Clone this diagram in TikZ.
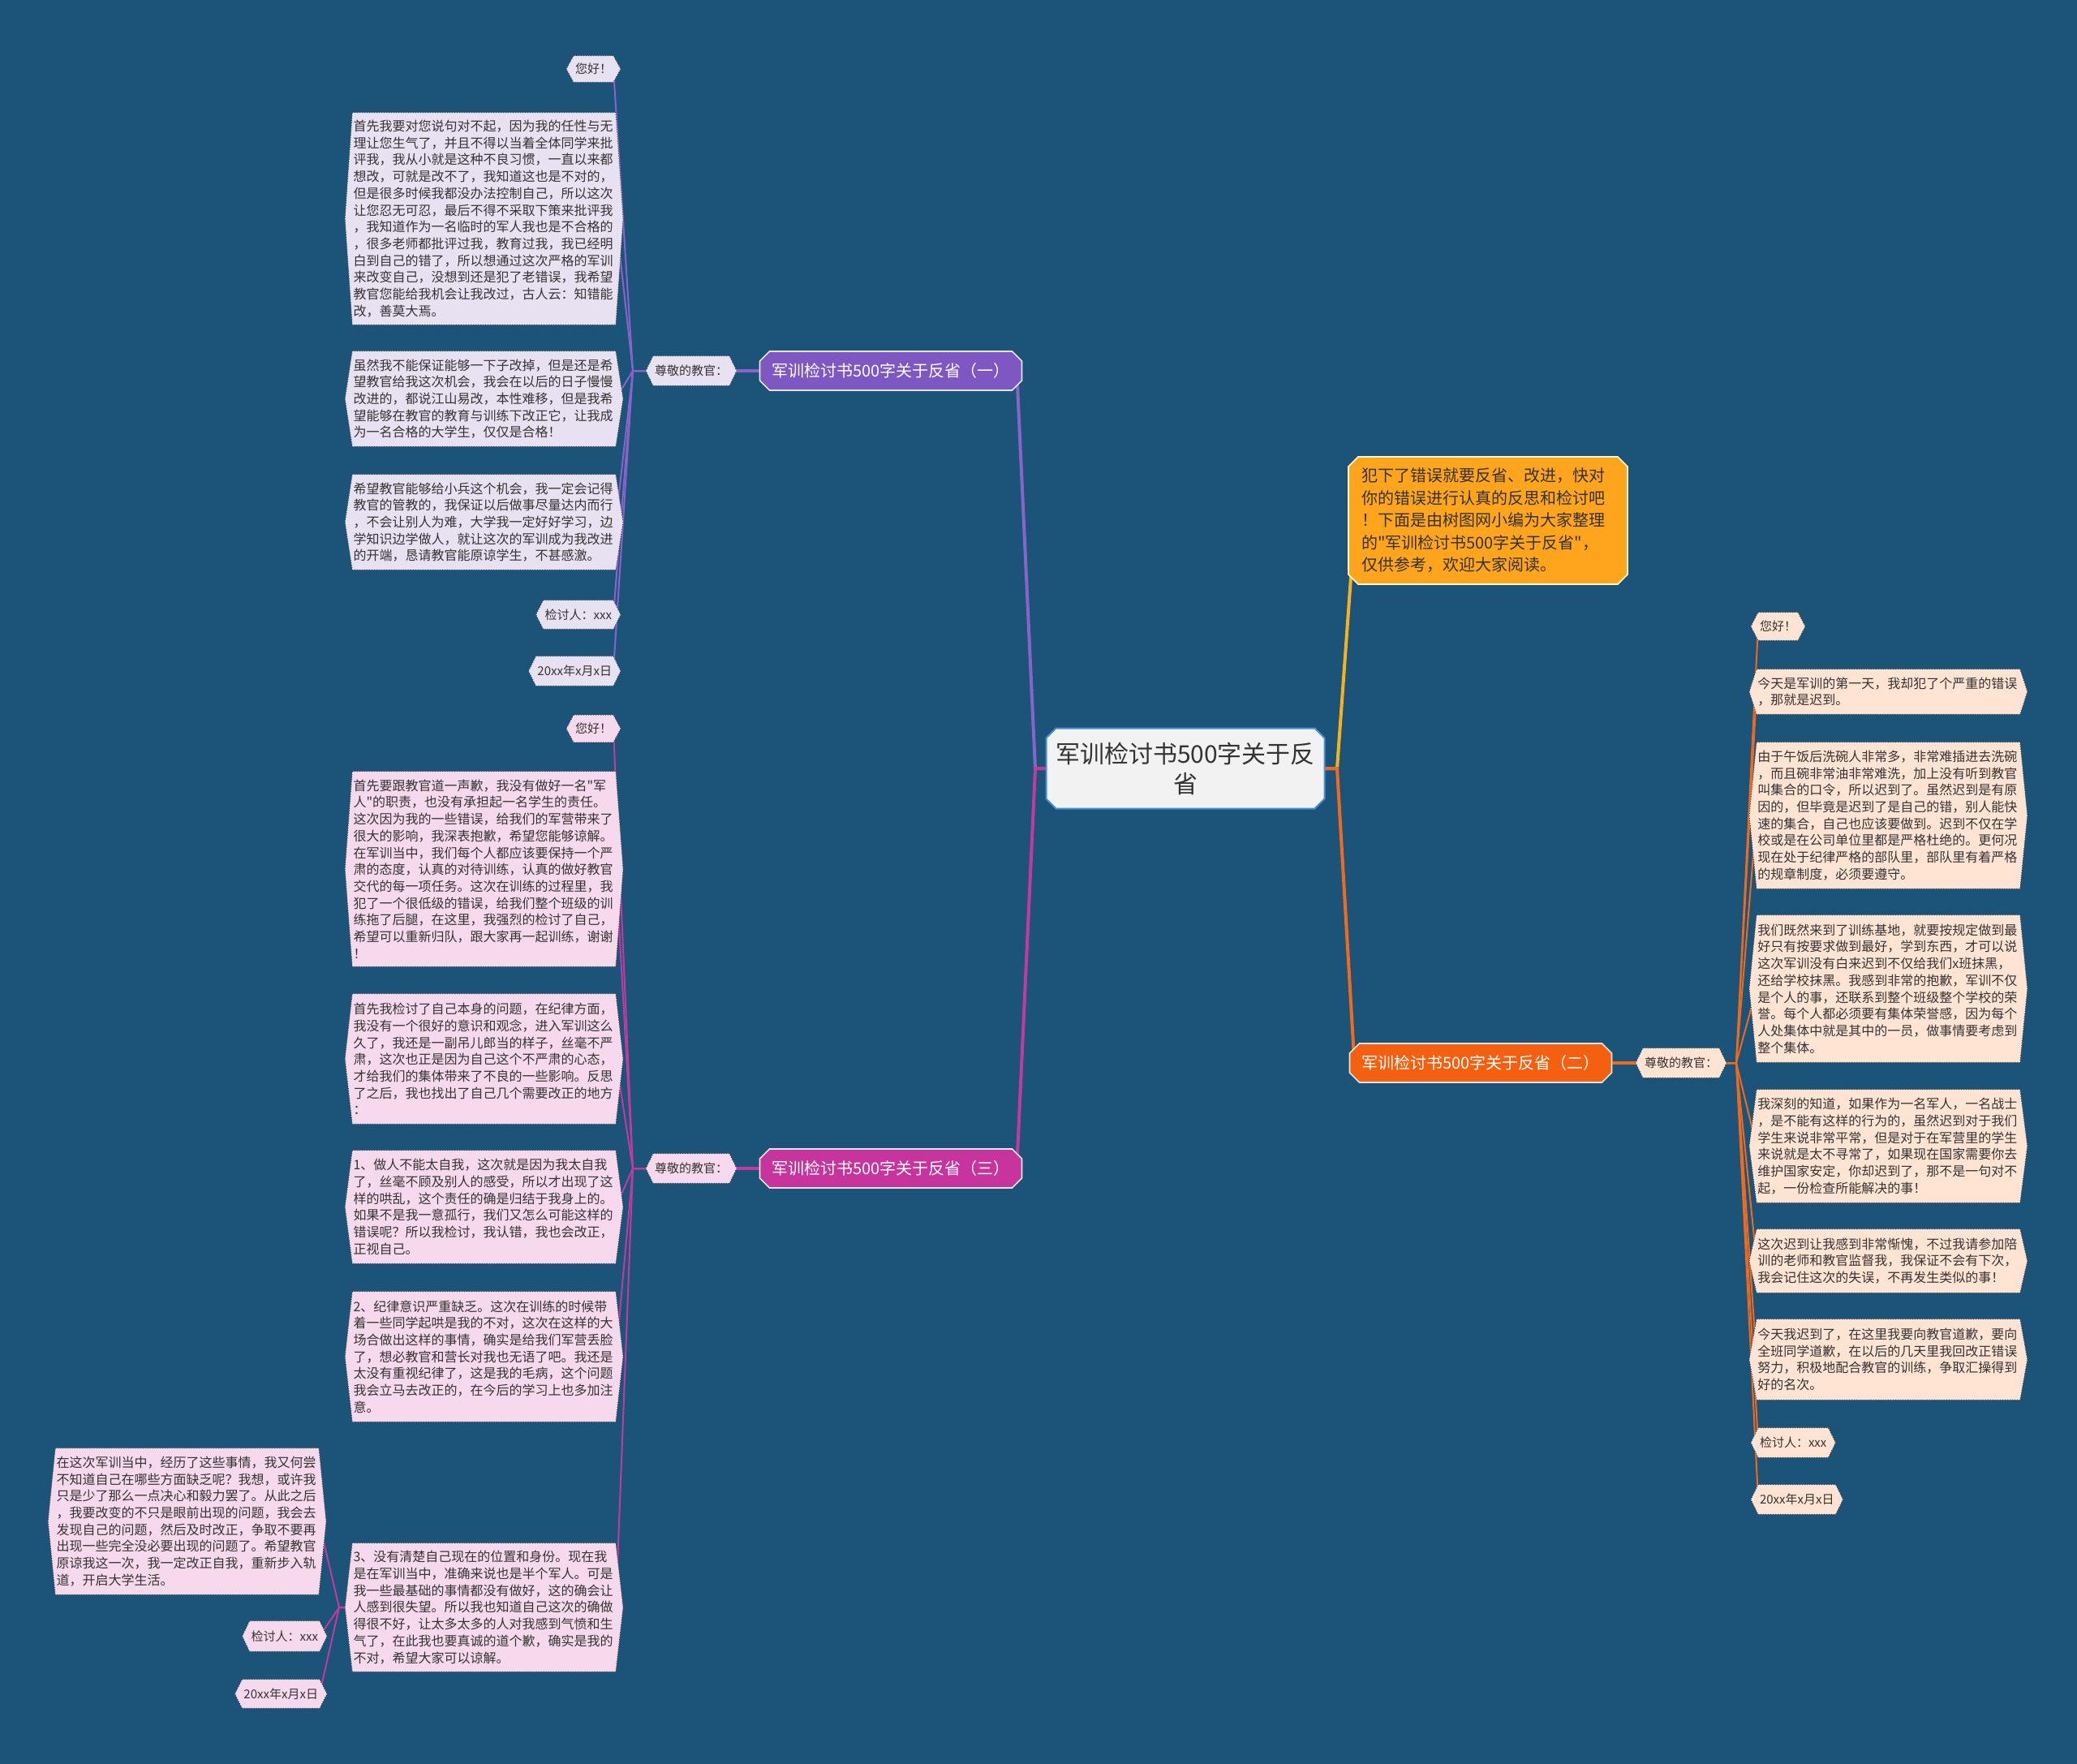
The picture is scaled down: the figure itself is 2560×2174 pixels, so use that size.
\documentclass[tikz,border=0pt]{standalone}
\usepackage{fontspec}
\newfontfamily\cjk{Noto Sans CJK SC}
\usetikzlibrary{shapes.misc,calc}
\pgfdeclarelayer{bg}\pgfdeclarelayer{lines}\pgfdeclarelayer{boxes}
\pgfsetlayers{bg,lines,boxes,main}
\definecolor{bgc}{HTML}{1B5478}
\definecolor{purp}{HTML}{7E57C2}
\definecolor{mag}{HTML}{C8349E}
\definecolor{org}{HTML}{F4600F}
\definecolor{gold}{HTML}{FFA41D}
\definecolor{lav}{HTML}{E7E1F2}
\definecolor{pnk}{HTML}{F6D9EC}
\definecolor{pch}{HTML}{FFE4D4}
\definecolor{txt}{HTML}{333333}
\definecolor{cfill}{HTML}{F2F2F2}
\definecolor{cline}{HTML}{4A8FD6}
\definecolor{lpurp}{HTML}{8A63C9}
\definecolor{lmag}{HTML}{C23AA0}
\definecolor{lorg}{HTML}{EE6A1F}
\definecolor{lgold}{HTML}{F5B120}
\tikzset{
  leaf/.style={font=\cjk\fontsize{8}{10.35}\selectfont, text=txt, align=left, text width=161pt, inner xsep=0.5pt, inner ysep=0pt},
  tag/.style={font=\cjk\fontsize{7.5}{9}\selectfont, text=txt, inner xsep=0.8pt, inner ysep=0pt},
  branchbox/.style={chamfered rectangle, chamfered rectangle xsep=3pt, chamfered rectangle ysep=3pt, draw=white!90!black, line width=0.8pt, font=\cjk\fontsize{10}{12}\selectfont, text=white, align=left, text width=146.5pt, inner xsep=4.5pt, inner ysep=0pt, minimum height=24pt},
  centerbox/.style={chamfered rectangle, chamfered rectangle xsep=3pt, chamfered rectangle ysep=3pt, draw=cline, line width=1pt, fill=cfill, font=\cjk\fontsize{15}{18.5}\selectfont, text=txt, align=center, minimum width=171.5pt, minimum height=49.5pt, inner sep=0pt},
  introbox/.style={chamfered rectangle, chamfered rectangle xsep=3pt, chamfered rectangle ysep=3pt, draw=yellow!20!white, line width=0.8pt, fill=gold, font=\cjk\fontsize{10}{13.75}\selectfont, text=txt, align=left, text width=156pt, inner xsep=5pt, minimum height=78.5pt, inner ysep=0pt},
  trunk/.style={line width=2pt, line cap=round},
  twig/.style={line width=1pt, line cap=round},
  hexline/.style={draw=black!75, densely dotted, line width=0.5pt}
}
\newcommand\hexit[2]{\begin{pgfonlayer}{boxes}\path[hexline, fill=#2] (#1.north west) -- (#1.north east) -- ([xshift=4.5pt]#1.east) -- (#1.south east) -- (#1.south west) -- ([xshift=-4.5pt]#1.west) -- cycle;\end{pgfonlayer}}
\begin{document}
\begin{tikzpicture}[x=0.5pt,y=-0.5pt]
\begin{pgfonlayer}{bg}
\fill[bgc] (0,0) rectangle (2560,2174);
\end{pgfonlayer}
\useasboundingbox (0,0) rectangle (2560,2174);

% centre and main branches
\node[centerbox] (c) at (1461,947) {军训检讨书500字关于反\\省};
\node[introbox] (intro) at (1834,641.5) {犯下了错误就要反省、改进，快对\\你的错误进行认真的反思和检讨吧\\！下面是由树图网小编为大家整理\\的"军训检讨书500字关于反省"，\\仅供参考，欢迎大家阅读。};
\node[branchbox, fill=purp] (b1) at (1098,457) {军训检讨书500字关于反省（一）};
\node[branchbox, fill=mag] (b3) at (1098,1440) {军训检讨书500字关于反省（三）};
\node[branchbox, fill=org] (b2) at (1825,1310) {军训检讨书500字关于反省（二）};

% greeting tags
\node[tag, minimum height=18pt] (z1) at (852,457) {尊敬的教官：}; \hexit{z1}{lav}
\node[tag, minimum height=18pt] (z3) at (852,1440) {尊敬的教官：}; \hexit{z3}{pnk}
\node[tag, minimum height=18pt] (z2) at (2072,1310) {尊敬的教官：}; \hexit{z2}{pch}

% branch (一)
\node[tag, anchor=east, minimum height=16pt] (l1a) at (756,85) {您好！}; \hexit{l1a}{lav}
\node[leaf, anchor=east, minimum height=130.5pt] (l1b) at (759,269.5) {首先我要对您说句对不起，因为我的任性与无\\理让您生气了，并且不得以当着全体同学来批\\评我，我从小就是这种不良习惯，一直以来都\\想改，可就是改不了，我知道这也是不对的，\\但是很多时候我都没办法控制自己，所以这次\\让您忍无可忍，最后不得不采取下策来批评我\\，我知道作为一名临时的军人我也是不合格的\\，很多老师都批评过我，教育过我，我已经明\\白到自己的错了，所以想通过这次严格的军训\\来改变自己，没想到还是犯了老错误，我希望\\教官您能给我机会让我改过，古人云：知错能\\改，善莫大焉。}; \hexit{l1b}{lav}
\node[leaf, anchor=east, minimum height=58.5pt] (l1c) at (759,491.5) {虽然我不能保证能够一下子改掉，但是还是希\\望教官给我这次机会，我会在以后的日子慢慢\\改进的，都说江山易改，本性难移，但是我希\\望能够在教官的教育与训练下改正它，让我成\\为一名合格的大学生，仅仅是合格！}; \hexit{l1c}{lav}
\node[leaf, anchor=east, minimum height=58.5pt] (l1d) at (759,643.5) {希望教官能够给小兵这个机会，我一定会记得\\教官的管教的，我保证以后做事尽量达内而行\\，不会让别人为难，大学我一定好好学习，边\\学知识边学做人，就让这次的军训成为我改进\\的开端，恳请教官能原谅学生，不甚感激。}; \hexit{l1d}{lav}
\node[tag, anchor=east, minimum height=17.5pt] (l1e) at (756,757.5) {检讨人：xxx}; \hexit{l1e}{lav}
\node[tag, anchor=east, minimum height=18pt] (l1f) at (756,827) {20xx年x月x日}; \hexit{l1f}{lav}

% branch (三)
\node[tag, anchor=east, minimum height=16.5pt] (l3a) at (756,898) {您好！}; \hexit{l3a}{pnk}
\node[leaf, anchor=east, minimum height=120pt] (l3b) at (759,1071) {首先要跟教官道一声歉，我没有做好一名"军\\人"的职责，也没有承担起一名学生的责任。\\这次因为我的一些错误，给我们的军营带来了\\很大的影响，我深表抱歉，希望您能够谅解。\\在军训当中，我们每个人都应该要保持一个严\\肃的态度，认真的对待训练，认真的做好教官\\交代的每一项任务。这次在训练的过程里，我\\犯了一个很低级的错误，给我们整个班级的训\\练拖了后腿，在这里，我强烈的检讨了自己，\\希望可以重新归队，跟大家再一起训练，谢谢\\！}; \hexit{l3b}{pnk}
\node[leaf, anchor=east, minimum height=80pt] (l3c) at (759,1305) {首先我检讨了自己本身的问题，在纪律方面，\\我没有一个很好的意识和观念，进入军训这么\\久了，我还是一副吊儿郎当的样子，丝毫不严\\肃，这次也正是因为自己这个不严肃的心态，\\才给我们的集体带来了不良的一些影响。反思\\了之后，我也找出了自己几个需要改正的地方\\：}; \hexit{l3c}{pnk}
\node[leaf, anchor=east, minimum height=69.5pt] (l3d) at (759,1487.5) {1、做人不能太自我，这次就是因为我太自我\\了，丝毫不顾及别人的感受，所以才出现了这\\样的哄乱，这个责任的确是归结于我身上的。\\如果不是我一意孤行，我们又怎么可能这样的\\错误呢？所以我检讨，我认错，我也会改正，\\正视自己。}; \hexit{l3d}{pnk}
\node[leaf, anchor=east, minimum height=80pt] (l3e) at (759,1672) {2、纪律意识严重缺乏。这次在训练的时候带\\着一些同学起哄是我的不对，这次在这样的大\\场合做出这样的事情，确实是给我们军营丢脸\\了，想必教官和营长对我也无语了吧。我还是\\太没有重视纪律了，这是我的毛病，这个问题\\我会立马去改正的，在今后的学习上也多加注\\意。}; \hexit{l3e}{pnk}
\node[leaf, anchor=east, minimum height=79pt] (l3f) at (759,1981) {3、没有清楚自己现在的位置和身份。现在我\\是在军训当中，准确来说也是半个军人。可是\\我一些最基础的事情都没有做好，这的确会让\\人感到很失望。所以我也知道自己这次的确做\\得很不好，让太多太多的人对我感到气愤和生\\气了，在此我也要真诚的道个歉，确实是我的\\不对，希望大家可以谅解。}; \hexit{l3f}{pnk}
\node[leaf, anchor=east, minimum height=90pt] (l3g) at (393,1875) {在这次军训当中，经历了这些事情，我又何尝\\不知道自己在哪些方面缺乏呢？我想，或许我\\只是少了那么一点决心和毅力罢了。从此之后\\，我要改变的不只是眼前出现的问题，我会去\\发现自己的问题，然后及时改正，争取不要再\\出现一些完全没必要出现的问题了。希望教官\\原谅我这一次，我一定改正自我，重新步入轨\\道，开启大学生活。}; \hexit{l3g}{pnk}
\node[tag, anchor=east, minimum height=18.5pt] (l3h) at (394,2016.5) {检讨人：xxx}; \hexit{l3h}{pnk}
\node[tag, anchor=east, minimum height=17.5pt] (l3i) at (394,2087.5) {20xx年x月x日}; \hexit{l3i}{pnk}

% branch (二)
\node[tag, anchor=west, minimum height=17pt] (r1) at (2167,772) {您好！}; \hexit{r1}{pch}
\node[leaf, anchor=west, minimum height=27.5pt] (r2) at (2165,852.5) {今天是军训的第一天，我却犯了个严重的错误\\，那就是迟到。}; \hexit{r2}{pch}
\node[leaf, anchor=west, minimum height=90pt] (r3) at (2165,1005) {由于午饭后洗碗人非常多，非常难插进去洗碗\\，而且碗非常油非常难洗，加上没有听到教官\\叫集合的口令，所以迟到了。虽然迟到是有原\\因的，但毕竟是迟到了是自己的错，别人能快\\速的集合，自己也应该要做到。迟到不仅在学\\校或是在公司单位里都是严格杜绝的。更何况\\现在处于纪律严格的部队里，部队里有着严格\\的规章制度，必须要遵守。}; \hexit{r3}{pch}
\node[leaf, anchor=west, minimum height=90.5pt] (r4) at (2165,1218.5) {我们既然来到了训练基地，就要按规定做到最\\好只有按要求做到最好，学到东西，才可以说\\这次军训没有白来迟到不仅给我们x班抹黑，\\还给学校抹黑。我感到非常的抱歉，军训不仅\\是个人的事，还联系到整个班级整个学校的荣\\誉。每个人都必须要有集体荣誉感，因为每个\\人处集体中就是其中的一员，做事情要考虑到\\整个集体。}; \hexit{r4}{pch}
\node[leaf, anchor=west, minimum height=69.5pt] (r5) at (2165,1412.5) {我深刻的知道，如果作为一名军人，一名战士\\，是不能有这样的行为的，虽然迟到对于我们\\学生来说非常平常，但是对于在军营里的学生\\来说就是太不寻常了，如果现在国家需要你去\\维护国家安定，你却迟到了，那不是一句对不\\起，一份检查所能解决的事！}; \hexit{r5}{pch}
\node[leaf, anchor=west, minimum height=39pt] (r6) at (2165,1554) {这次迟到让我感到非常惭愧，不过我请参加陪\\训的老师和教官监督我，我保证不会有下次，\\我会记住这次的失误，不再发生类似的事！}; \hexit{r6}{pch}
\node[leaf, anchor=west, minimum height=49.5pt] (r7) at (2165,1675.5) {今天我迟到了，在这里我要向教官道歉，要向\\全班同学道歉，在以后的几天里我回改正错误\\努力，积极地配合教官的训练，争取汇操得到\\好的名次。}; \hexit{r7}{pch}
\node[tag, anchor=west, minimum height=18pt] (r8) at (2167,1778) {检讨人：xxx}; \hexit{r8}{pch}
\node[tag, anchor=west, minimum height=18pt] (r9) at (2167,1848) {20xx年x月x日}; \hexit{r9}{pch}

% connectors
\begin{pgfonlayer}{lines}
\coordinate (cL) at (1276,947);
\coordinate (cR) at (1648,947);
\coordinate (f1) at (780,457);
\coordinate (f3) at (780,1440);
\coordinate (f2) at (2140,1310);
\coordinate (f3s) at (418,1981);
\draw[trunk, lpurp] (c.west) -- (cL) -- (b1.south east);
\draw[trunk, lmag] (c.west) -- (cL) -- (b3.north east);
\draw[trunk, lgold] (c.east) -- (cR) -- ($(intro.south west)!0.25!(intro.north west)$);
\draw[trunk, lorg] (c.east) -- (cR) -- ($(b2.north west)!0.3!(b2.south west)$);
\draw[trunk, lpurp] (b1.west) -- (z1.east);
\draw[trunk, lmag] (b3.west) -- (z3.east);
\draw[trunk, lorg] (b2.east) -- (z2.west);
\foreach \n in {l1a,l1b,l1c,l1d,l1e,l1f} \draw[twig, lpurp] (z1.west) -- (f1) -- (\n.east);
\foreach \n in {l3a,l3b,l3c,l3d,l3e,l3f} \draw[twig, lmag] (z3.west) -- (f3) -- (\n.east);
\foreach \n in {l3g,l3h,l3i} \draw[twig, lmag] (l3f.west) -- (f3s) -- (\n.east);
\foreach \n in {r1,r2,r3,r4,r5,r6,r7,r8,r9} \draw[twig, lorg] (z2.east) -- (f2) -- (\n.west);
\end{pgfonlayer}
\end{tikzpicture}
\end{document}
